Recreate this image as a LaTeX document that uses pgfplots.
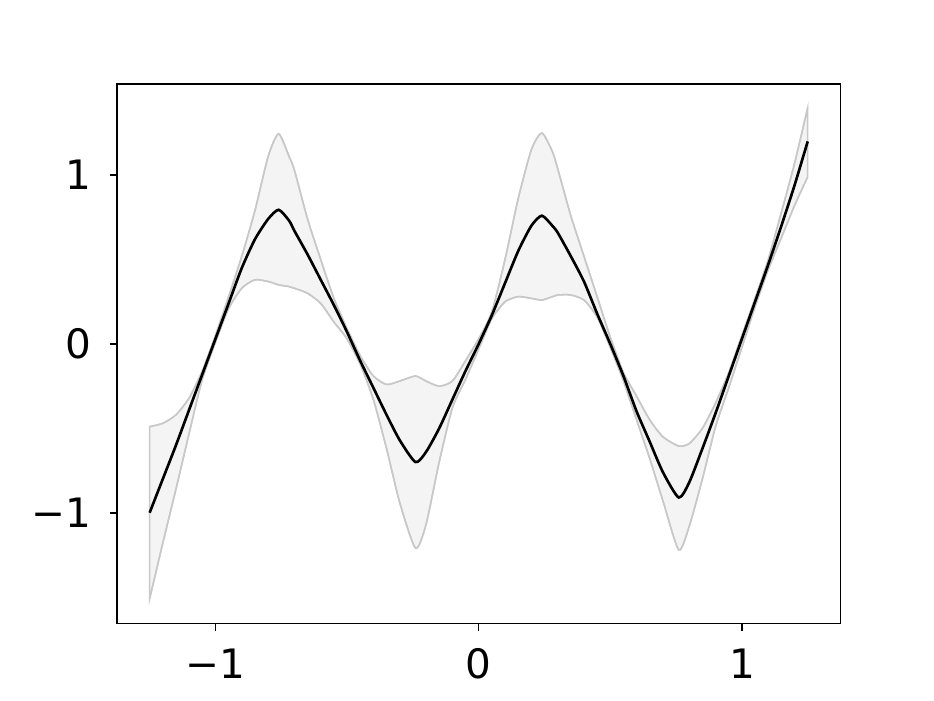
\documentclass[border=0pt]{standalone}
\usepackage{fontspec}
\setmainfont{DejaVu Sans}
\usepackage{pgfplots}
\pgfplotsset{compat=1.18}
\usepgfplotslibrary{fillbetween}

\definecolor{bandline}{RGB}{200,200,200}
\definecolor{bandfill}{RGB}{244,244,244}

% x, posterior mean, lower and upper band
\pgfplotstableread{
x      mean   lo     up
-1.25  -1.00  -1.51  -0.49
-1.20  -0.80  -1.18  -0.47
-1.15  -0.60  -0.86  -0.42
-1.10  -0.39  -0.53  -0.32
-1.05  -0.18  -0.21  -0.16
-1.00   0.03   0.01   0.05
-0.95   0.24   0.21   0.28
-0.90   0.45   0.33   0.52
-0.85   0.62   0.38   0.79
-0.80   0.74   0.37   1.11
-0.76   0.795  0.35   1.245
-0.72   0.73   0.34   1.11
-0.70   0.67   0.33   1.03
-0.65   0.53   0.30   0.74
-0.60   0.38   0.24   0.50
-0.55   0.23   0.13   0.27
-0.50   0.07   0.03   0.09
-0.45  -0.10  -0.12  -0.07
-0.40  -0.26  -0.33  -0.19
-0.35  -0.42  -0.62  -0.24
-0.30  -0.57  -0.94  -0.22
-0.24  -0.70  -1.21  -0.19
-0.20  -0.64  -1.07  -0.22
-0.15  -0.50  -0.70  -0.25
-0.10  -0.33  -0.38  -0.22
-0.05  -0.16  -0.21  -0.10
 0.00   0.00  -0.03   0.03
 0.05   0.17   0.15   0.19
 0.10   0.36   0.25   0.50
 0.15   0.55   0.28   0.86
 0.20   0.70   0.27   1.15
 0.24   0.76   0.26   1.25
 0.28   0.70   0.28   1.14
 0.30   0.66   0.29   1.04
 0.35   0.52   0.29   0.76
 0.40   0.37   0.26   0.52
 0.45   0.18   0.16   0.28
 0.50   0.00  -0.02   0.04
 0.55  -0.19  -0.22  -0.17
 0.60  -0.40  -0.45  -0.31
 0.65  -0.58  -0.68  -0.45
 0.70  -0.76  -0.93  -0.55
 0.76  -0.91  -1.22  -0.605
 0.80  -0.82  -1.08  -0.59
 0.85  -0.62  -0.80  -0.50
 0.90  -0.41  -0.49  -0.35
 0.95  -0.19  -0.26  -0.17
 1.00   0.03  -0.02   0.05
 1.05   0.25   0.22   0.27
 1.10   0.47   0.44   0.50
 1.15   0.70   0.63   0.78
 1.20   0.94   0.82   1.07
 1.25   1.20   0.99   1.40
}\gpdata

\begin{document}
\fontsize{20}{24}\selectfont
\begin{tikzpicture}
\begin{axis}[
    name=main,
    scale only axis,
    width=357.12pt, height=266.11pt,
    xmin=-1.375, xmax=1.375,
    ymin=-1.656, ymax=1.54,
    xtick={-1,0,1}, xticklabels={−1,0,1},
    ytick={-1,0,1}, yticklabels={−1,0,1},
    xtick pos=bottom, ytick pos=left,
    tick align=outside,
    major tick length=3.5pt,
    tick style={black, line width=0.8pt},
    axis line style={line width=0.8pt},
    ticklabel style={font=\fontsize{20}{24}\selectfont},
    /pgf/number format/assume math mode=true,
    xticklabel shift=2pt, yticklabel shift=2pt,
]
\addplot[name path=up, draw=bandline, line width=0.75pt, smooth, tension=0.4] table[x=x, y=up] {\gpdata};
\addplot[name path=lo, draw=bandline, line width=0.75pt, smooth, tension=0.4] table[x=x, y=lo] {\gpdata};
\addplot[fill=bandfill, draw=bandline, line width=0.75pt] fill between[of=up and lo];
\addplot[black, line width=1.3pt, smooth, tension=0.4] table[x=x, y=mean] {\gpdata};
\end{axis}
\path ([xshift=-57.6pt,yshift=-38.016pt]main.south west) rectangle ([xshift=46.08pt,yshift=41.472pt]main.north east);
\end{tikzpicture}
\end{document}
